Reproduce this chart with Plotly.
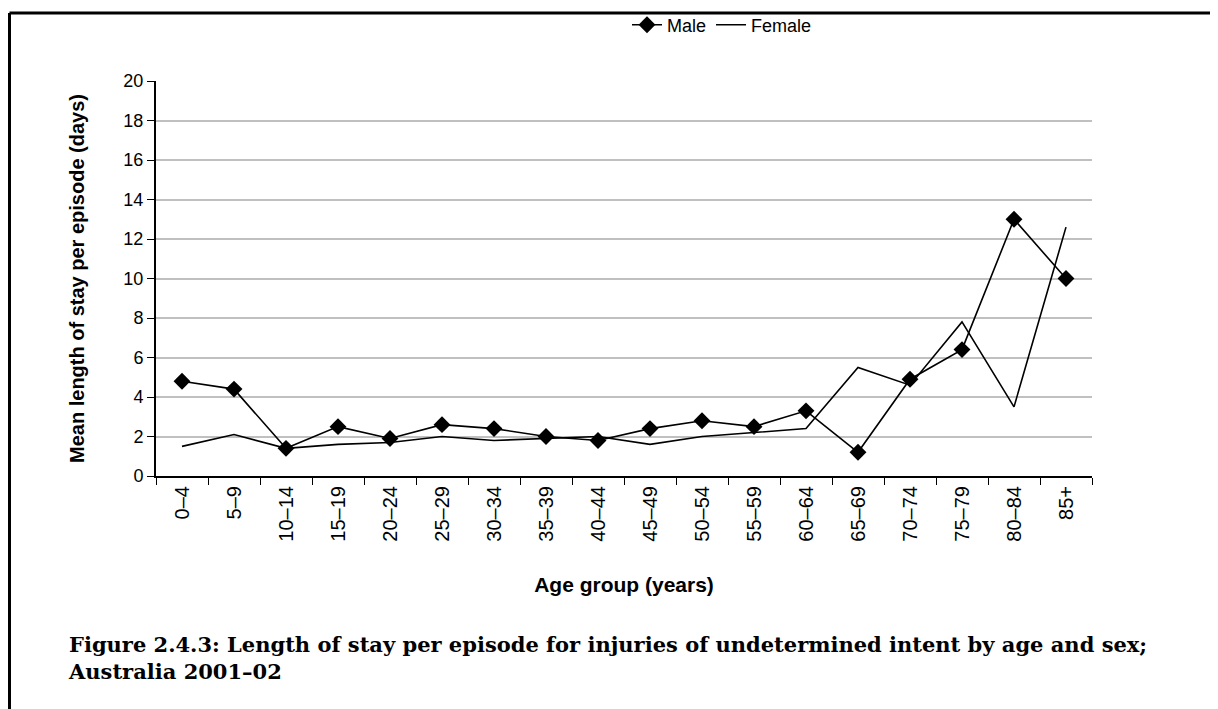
import plotly.graph_objects as go

# data
age_groups = ['0–4', '5–9', '10–14', '15–19', '20–24', '25–29', '30–34', '35–39', '40–44',
              '45–49', '50–54', '55–59', '60–64', '65–69', '70–74', '75–79', '80–84', '85+']
male = [4.8, 4.4, 1.4, 2.5, 1.9, 2.6, 2.4, 2.0, 1.8, 2.4, 2.8, 2.5, 3.3, 1.2, 4.9, 6.4, 13.0, 10.0]
female = [1.5, 2.1, 1.4, 1.6, 1.7, 2.0, 1.8, 1.9, 2.0, 1.6, 2.0, 2.2, 2.4, 5.5, 4.6, 7.8, 3.5, 12.6]

y_ticks = list(range(0, 21, 2))

# the page body has an 8px margin, so the figure is drawn 8px in from the window corner
OFF = 8
W, H = 1218 - OFF, 709 - OFF
# plot area in window pixels: x 156..1092, y 81..476
L, R, T, B = 156, 1092, 81, 476


def px_x(p):
    return (p - L) / (R - L)


def px_y(p):
    return (B - p) / (B - T)


fig = go.Figure()
fig.add_trace(go.Scatter(x=age_groups, y=male, name='Male', mode='lines+markers',
                         line=dict(color='black', width=1.6),
                         marker=dict(symbol='diamond', size=13, color='black')))
fig.add_trace(go.Scatter(x=age_groups, y=female, name='Female', mode='lines',
                         line=dict(color='black', width=1.6)))

font_sans = 'Liberation Sans, Arial, sans-serif'

fig.update_layout(
    width=W, height=H,
    margin=dict(l=L - OFF, r=W + OFF - R, t=T - OFF, b=H + OFF - B, autoexpand=False),
    plot_bgcolor='white', paper_bgcolor='white',
    font=dict(family=font_sans, size=18, color='black'),
    showlegend=True,
    legend=dict(orientation='h', x=px_x(722), xanchor='center', y=px_y(25), yanchor='middle',
                font=dict(size=18), bgcolor='rgba(0,0,0,0)', tracegroupgap=0),
)

fig.update_xaxes(
    type='category', range=[-0.5, len(age_groups) - 0.5], tickangle=-90,
    tickson='boundaries', ticks='outside', ticklen=7,
    tickcolor='black', showline=True, linecolor='black', linewidth=2, showgrid=False,
    tickfont=dict(size=20),
    title=dict(text='<b>Age group (years)</b>', font=dict(size=21), standoff=37),
)
fig.update_yaxes(
    range=[0, 20], tickvals=y_ticks, ticks='outside', ticklen=7, tickcolor='black',
    showline=True, linecolor='black', linewidth=2, showgrid=True, gridcolor='#c0c0c0',
    gridwidth=1.5, zeroline=False, tickfont=dict(size=18),
    title=dict(text='<b>Mean length of stay per episode (days)</b>', font=dict(size=20), standoff=33),
)

# page frame (left and top edges, runs off the picture at right and bottom)
fig.add_shape(type='line', xref='paper', yref='paper', x0=px_x(9.5), x1=px_x(1300),
              y0=px_y(13), y1=px_y(13), line=dict(color='black', width=3))
fig.add_shape(type='line', xref='paper', yref='paper', x0=px_x(9.5), x1=px_x(9.5),
              y0=px_y(13), y1=px_y(800), line=dict(color='black', width=3))

# figure caption
fig.add_annotation(
    xref='paper', yref='paper', x=px_x(66), y=px_y(630), xanchor='left', yanchor='top',
    align='left', showarrow=False,
    text='<b>Figure 2.4.3: Length of stay per episode for injuries of undetermined intent by age and sex;<br>'
         'Australia 2001–02</b>',
    font=dict(family='DejaVu Serif, serif', size=21, color='black'),
)

fig.write_html('out.html')
